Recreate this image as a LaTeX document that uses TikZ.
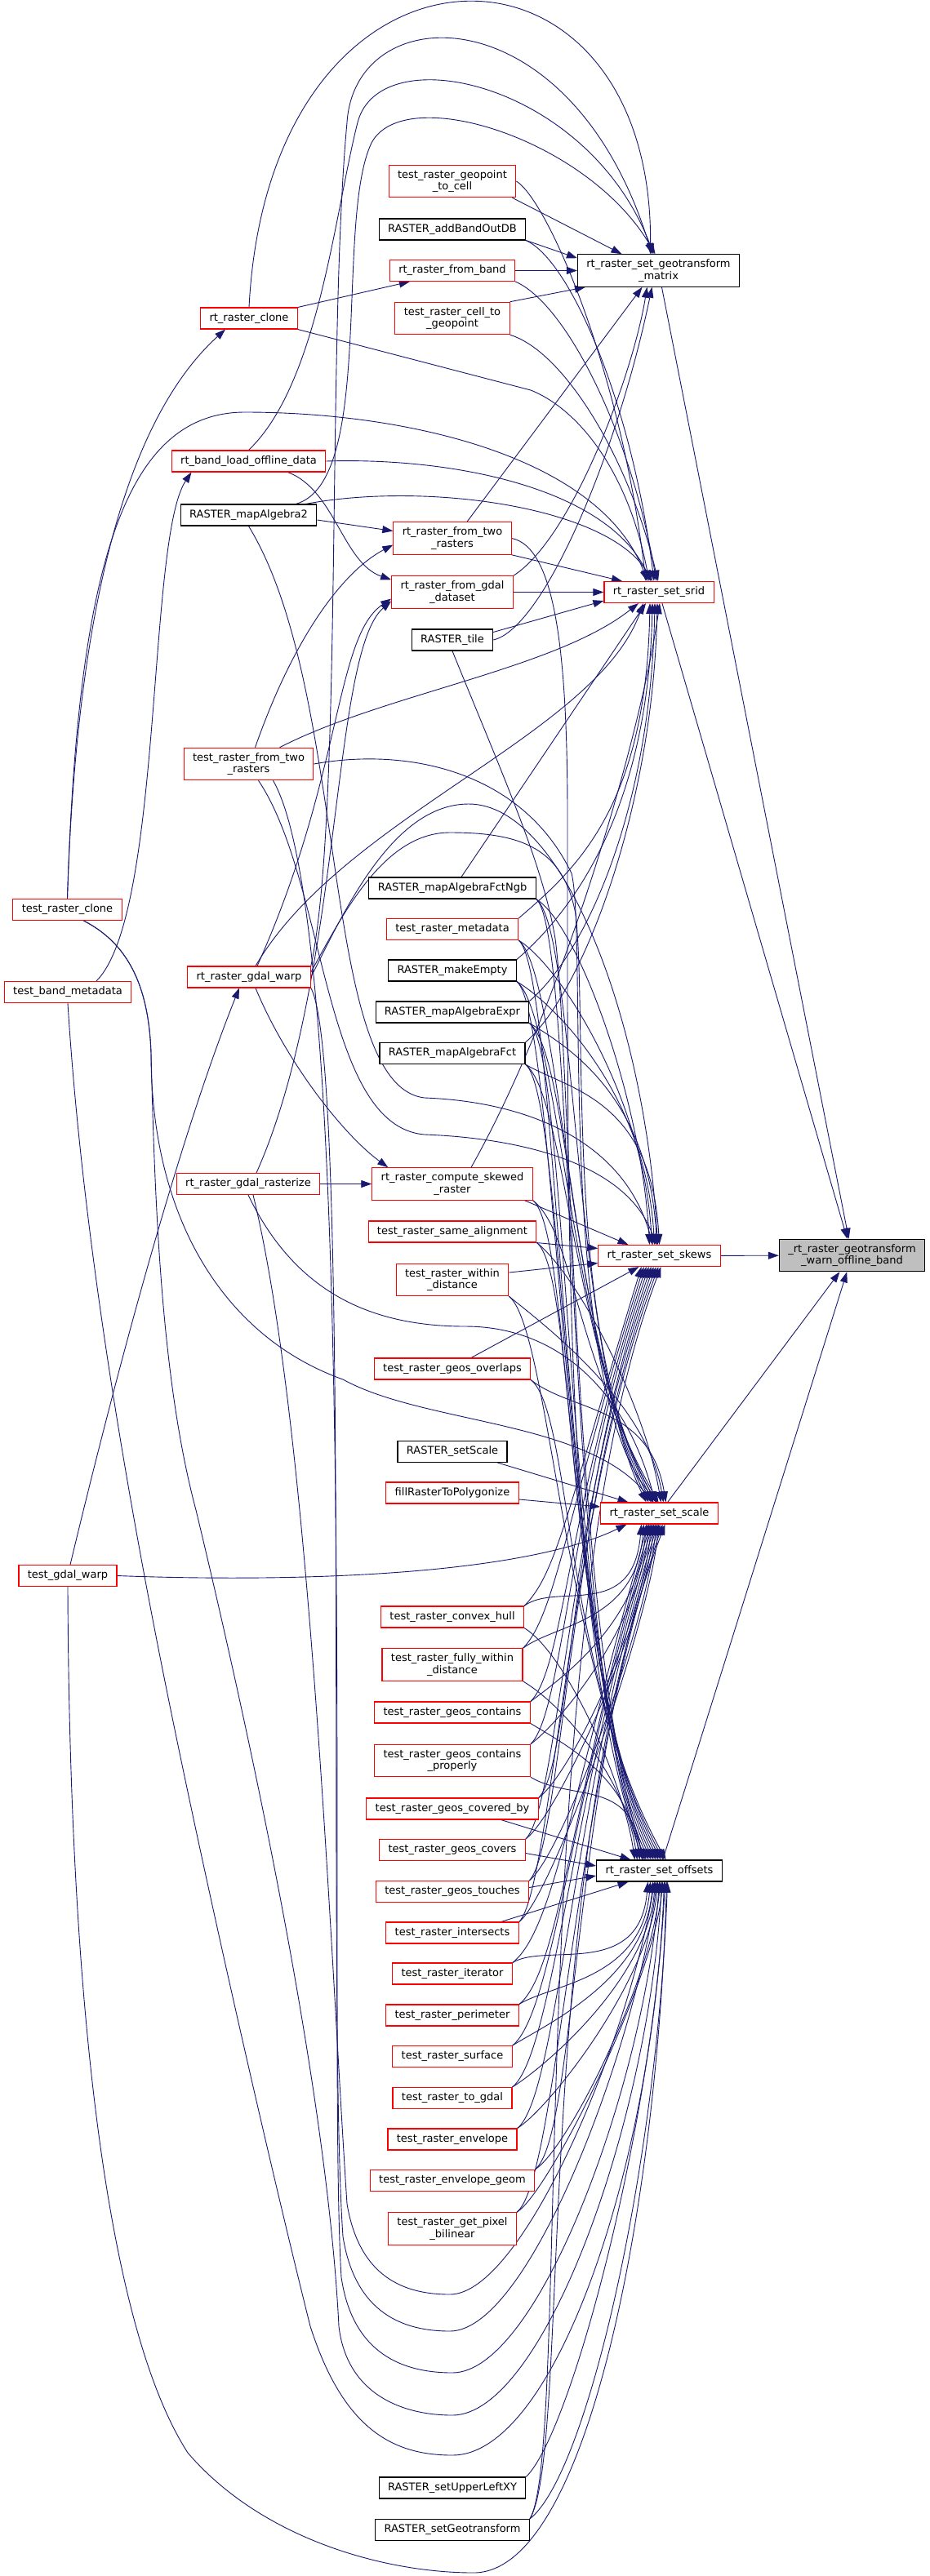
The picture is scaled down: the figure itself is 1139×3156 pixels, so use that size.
\documentclass[tikz,border=0pt]{standalone}
\usepackage{fontspec}
\usepackage{xcolor}
\usepackage{tikz}
\usetikzlibrary{arrows.meta}
\usetikzlibrary{backgrounds}
\newfontfamily\dxfont{DejaVu Sans}
\definecolor{callblue}{HTML}{191970}
\definecolor{rootgray}{HTML}{BFBFBF}
\tikzset{
  fnred/.style={draw=red, fill=white, line width=1.1pt, inner xsep=10.9pt, inner ysep=6pt,
    minimum height=26pt, align=center, font=\dxfont\fontsize{13}{14.5}\selectfont},
  fnblack/.style={fnred, draw=black},
  fnroot/.style={fnblack, fill=rootgray},
  callarrow/.style={draw=callblue, line width=0.9pt, -{Triangle[length=13pt,width=9pt]}}
}

\begin{document}
\begin{tikzpicture}[x=1pt,y=-1pt]
\useasboundingbox (0,0) rectangle (1139,3156);
\node[fnred] (tclone) at (82.5,1114.5) {test\_raster\_clone};
\node[fnred] (tbandmeta) at (83,1215.5) {test\_band\_metadata};
\node[fnred] (tgdalwarp) at (83,1930.5) {test\_gdal\_warp};
\node[fnred] (rclone) at (305,390) {rt\_raster\_clone};
\node[fnred] (rbandload) at (304.5,565) {rt\_band\_load\_offline\_data};
\node[fnblack] (mapalg2) at (304.5,631) {RASTER\_mapAlgebra2};
\node[fnred] (tfromtwo) at (304.5,936) {test\_raster\_from\_two\\\_rasters};
\node[fnred] (rgdalwarp) at (305,1197) {rt\_raster\_gdal\_warp};
\node[fnred] (rrasterize) at (304,1450.5) {rt\_raster\_gdal\_rasterize};
\node[fnred] (tgeotocell) at (554,222) {test\_raster\_geopoint\\\_to\_cell};
\node[fnblack] (addbandoutdb) at (554,281) {RASTER\_addBandOutDB};
\node[fnred] (rfromband) at (554,331.5) {rt\_raster\_from\_band};
\node[fnred] (tcelltogeo) at (554,390) {test\_raster\_cell\_to\\\_geopoint};
\node[fnred] (rfromtwo) at (554,659.5) {rt\_raster\_from\_two\\\_rasters};
\node[fnred] (rfromgdal) at (554,725.5) {rt\_raster\_from\_gdal\\\_dataset};
\node[fnblack] (rtile) at (554,784) {RASTER\_tile};
\node[fnblack] (mafctngb) at (554,1088) {RASTER\_mapAlgebraFctNgb};
\node[fnred] (tmetadata) at (554,1138.5) {test\_raster\_metadata};
\node[fnblack] (makeempty) at (554,1189) {RASTER\_makeEmpty};
\node[fnblack] (maexpr) at (554,1240) {RASTER\_mapAlgebraExpr};
\node[fnblack] (mafct) at (554,1290.5) {RASTER\_mapAlgebraFct};
\node[fnred] (computeskewed) at (554,1450.5) {rt\_raster\_compute\_skewed\\\_raster};
\node[fnred] (samealign) at (554,1509) {test\_raster\_same\_alignment};
\node[fnred] (withindist) at (554,1568) {test\_raster\_within\\\_distance};
\node[fnred] (overlaps) at (554,1677) {test\_raster\_geos\_overlaps};
\node[fnblack] (setscaleR) at (554,1778.5) {RASTER\_setScale};
\node[fnred] (fillpoly) at (554,1829) {fillRasterToPolygonize};
\node[fnred] (convexhull) at (554,1981) {test\_raster\_convex\_hull};
\node[fnred] (fullywithin) at (554,2039.5) {test\_raster\_fully\_within\\\_distance};
\node[fnred] (contains) at (554,2098) {test\_raster\_geos\_contains};
\node[fnred] (containsprop) at (554,2157) {test\_raster\_geos\_contains\\\_properly};
\node[fnred] (coveredby) at (554,2216) {test\_raster\_geos\_covered\_by};
\node[fnred] (covers) at (554,2266.5) {test\_raster\_geos\_covers};
\node[fnred] (touches) at (554,2317.5) {test\_raster\_geos\_touches};
\node[fnred] (intersects) at (554,2368) {test\_raster\_intersects};
\node[fnred] (iterator) at (554,2418) {test\_raster\_iterator};
\node[fnred] (perimeter) at (554,2469) {test\_raster\_perimeter};
\node[fnred] (surface) at (554,2519.5) {test\_raster\_surface};
\node[fnred] (togdal) at (554,2570.5) {test\_raster\_to\_gdal};
\node[fnred] (envelope) at (554,2621) {test\_raster\_envelope};
\node[fnred] (envgeom) at (554,2671.5) {test\_raster\_envelope\_geom};
\node[fnred] (getpixel) at (554,2730.5) {test\_raster\_get\_pixel\\\_bilinear};
\node[fnblack] (setulxy) at (554,3048) {RASTER\_setUpperLeftXY};
\node[fnblack] (setgeot) at (554,3099.5) {RASTER\_setGeotransform};
\node[fnblack] (gtm) at (806.5,331.5) {rt\_raster\_set\_geotransform\\\_matrix};
\node[fnred] (srid) at (807,725.5) {rt\_raster\_set\_srid};
\node[fnred] (skews) at (807.5,1538.5) {rt\_raster\_set\_skews};
\node[fnred] (scale) at (807.5,1854) {rt\_raster\_set\_scale};
\node[fnblack] (offsets) at (807.5,2292) {rt\_raster\_set\_offsets};
\node[fnroot] (warn) at (1043.5,1538) {\_rt\_raster\_geotransform\\\_warn\_offline\_band};

\begin{pgfonlayer}{background}
\fill[white] (0,0) rectangle (1139,3156);
\foreach \n in {gtm,srid,skews,scale,offsets}
  \draw[callarrow] (\n) -- (warn);

\draw[callarrow] ([xshift=-5pt]tgeotocell.south east) -- ([xshift=-45pt]gtm.north);
\draw[callarrow] (addbandoutdb.south east) -- ([yshift=-5pt]gtm.north west);
\draw[callarrow] (rfromband) -- (gtm);
\draw[callarrow] (tcelltogeo.north east) -- ([xshift=10pt]gtm.south west);
\draw[callarrow] (rclone.north) .. controls (330,-110) and (800,-110) .. ([xshift=-10pt]gtm.north);
\draw[callarrow] (rgdalwarp.north east) .. controls (420,1000) and (400,420) .. (425,150) .. controls (435,-5) and (700,-10) .. ([xshift=-8pt]gtm.north);
\draw[callarrow] (rbandload.north) .. controls (390,470) and (410,260) .. (438,150) .. controls (465,45) and (720,100) .. ([xshift=-6pt]gtm.north);
\draw[callarrow] ([xshift=-26pt]mapalg2.north east) .. controls (460,590) and (410,270) .. (455,175) .. controls (495,100) and (720,170) .. ([xshift=-4pt]gtm.north);
\draw[callarrow] ([xshift=18pt]rfromtwo.north) -- ([xshift=-20pt]gtm.south);
\draw[callarrow] (rfromgdal.north east) .. controls (700,660) and (775,460) .. ([xshift=-14pt]gtm.south);
\draw[callarrow] (rtile.east) .. controls (665,770) and (755,560) .. ([xshift=-8pt]gtm.south);

\draw[callarrow] (rfromgdal) -- (srid);
\draw[callarrow] (rfromtwo.south east) -- ([xshift=-45pt]srid.north);
\draw[callarrow] ([yshift=-4pt]rtile.north east) -- ([yshift=3pt]srid.south west);
\draw[callarrow] (tgeotocell.east) .. controls (670,245) and (760,450) .. ([xshift=-16pt]srid.north);
\draw[callarrow] (tclone.north) .. controls (95,700) and (150,505) .. (300,505) .. controls (500,505) and (735,560) .. ([xshift=-14pt]srid.north);
\draw[callarrow] (rclone.south east) -- (650,478) .. controls (710,502) and (770,580) .. ([xshift=-12pt]srid.north);
\draw[callarrow] (rbandload.east) .. controls (560,560) and (745,600) .. ([xshift=-10pt]srid.north);
\draw[callarrow] ([xshift=-14pt]mapalg2.north east) .. controls (520,590) and (745,620) .. ([xshift=-8pt]srid.north);
\draw[callarrow] (addbandoutdb.south east) .. controls (700,320) and (775,500) .. ([xshift=-6pt]srid.north);
\draw[callarrow] (rfromband.south east) .. controls (690,370) and (770,520) .. ([xshift=-3pt]srid.north);
\draw[callarrow] (tcelltogeo.south east) .. controls (690,430) and (770,560) .. ([xshift=-1pt]srid.north);
\draw[callarrow] ([xshift=38pt]tfromtwo.north) .. controls (470,850) and (680,820) .. ([xshift=-25pt]srid.south);
\draw[callarrow] ([xshift=8pt]rgdalwarp.north) .. controls (420,1000) and (730,900) .. ([xshift=-19pt]srid.south);
\draw[callarrow] ([xshift=11pt]mafctngb.north) -- ([xshift=-16pt]srid.south);
\foreach \n/\s in {tmetadata/-11,makeempty/-8,maexpr/-5,mafct/-2}
  \draw[callarrow] (\n.north east) .. controls +(70,-60) and +(-5,250) .. ([xshift=\s pt]srid.south);
\draw[callarrow] ([xshift=23pt]computeskewed.north) .. controls (690,1230) and (785,900) .. ([xshift=1pt]srid.south);

\draw[callarrow] ([xshift=-10pt]computeskewed.south east) -- ([xshift=-38pt]skews.north);
\draw[callarrow] (samealign.south east) -- ([yshift=9pt]skews.west);
\draw[callarrow] ([yshift=9pt]withindist.east) -- ([yshift=-9pt]skews.west);
\draw[callarrow] ([xshift=23pt]overlaps.north) -- ([xshift=-25pt]skews.south);
\foreach \n/\s in {mafctngb/-12,tmetadata/-9,makeempty/-6,maexpr/-3,mafct/0}
  \draw[callarrow] (\n.south east) .. controls +(50,30) and +(-10,-180) .. ([xshift=\s pt]skews.north);
\draw[callarrow] (mapalg2.south) .. controls (430,850) and (390,1330) .. (520,1345) .. controls (650,1350) and (765,1400) .. ([xshift=-8pt]skews.north);
\draw[callarrow] ([xshift=12pt]tfromtwo.south) .. controls (400,1080) and (395,1380) .. (520,1390) .. controls (650,1395) and (770,1430) .. ([xshift=-4pt]skews.north);
\draw[callarrow] (rgdalwarp.east) .. controls (420,1120) and (480,985) .. (574,985) .. controls (690,985) and (790,1250) .. ([xshift=-2pt]skews.north);

\draw[callarrow] ([xshift=-12pt]setscaleR.south east) -- ([xshift=-38pt]scale.north);
\draw[callarrow] ([yshift=-8pt]fillpoly.east) -- ([yshift=8pt]scale.west);
\draw[callarrow] (tgdalwarp.east) .. controls (400,1940) and (650,1925) .. ([xshift=-40pt]scale.south);
\draw[callarrow] ([xshift=20pt]tclone.south) .. controls (155,1155) and (182,1205) .. (185,1290) .. controls (185,1500) and (280,1640) .. (420,1690) .. controls (520,1745) and (720,1740) .. ([xshift=-8pt]scale.north);
\draw[callarrow] (rrasterize.south) .. controls (360,1580) and (450,1625) .. (570,1625) .. controls (680,1625) and (765,1700) .. ([xshift=-5pt]scale.north);
\draw[callarrow] ([yshift=6pt]rgdalwarp.east) .. controls (420,1120) and (470,1020) .. (551,1020) .. controls (640,1020) and (690,1040) .. (705,1120) .. controls (720,1250) and (690,1650) .. ([xshift=-3pt]scale.north);
\draw[callarrow] (tfromtwo.east) .. controls (500,915) and (640,945) .. (700,1070) .. controls (720,1150) and (680,1700) .. ([xshift=-2pt]scale.north);
\foreach \n/\s in {mafctngb/-16,tmetadata/-13,makeempty/-10,maexpr/-7,mafct/-4,computeskewed/-1} {
  \draw[callarrow] (\n.south east) .. controls +(50,40) and (700,1650) .. ([xshift=\s pt]scale.north);
  \draw[callarrow] (\n.south east) .. controls +(50,40) and (690,2050) .. ([xshift=\s pt]offsets.north);
}
\foreach \n/\s in {samealign/2,withindist/5,overlaps/8} {
  \draw[callarrow] (\n.south east) .. controls +(50,40) and +(-20,-120) .. ([xshift=\s pt]scale.north);
  \draw[callarrow] (\n.south east) .. controls +(50,40) and (690,2050) .. ([xshift=\s pt]offsets.north);
}
\draw[callarrow] (rtile.south) .. controls (620,960) and (665,1060) .. (680,1150) .. controls (700,1300) and (700,2000) .. ([xshift=-18pt]offsets.north);
\draw[callarrow] (rfromtwo.east) .. controls (680,670) and (695,800) .. (695,1000) .. controls (695,1500) and (690,2000) .. ([xshift=-20pt]offsets.north);

\foreach \n/\s in {convexhull/-22,fullywithin/-19,contains/-16,containsprop/-13,coveredby/-10,covers/-7,touches/-4,intersects/-1} {
  \draw[callarrow] (\n.north east) .. controls +(40,-40) and (695,1850) .. ([xshift=\s pt]skews.south);
  \draw[callarrow] (\n.north east) .. controls +(40,-30) and +(-10,120) .. ([xshift=\s pt]scale.south);
}
\foreach \n/\s in {convexhull/-30,fullywithin/-27,contains/-24,containsprop/-21}
  \draw[callarrow] (\n.south east) .. controls +(50,30) and +(-15,-100) .. ([xshift=\s pt]offsets.north);
\draw[callarrow] ([xshift=-46pt]coveredby.south east) -- ([xshift=-35pt]offsets.north);
\draw[callarrow] ([yshift=-4pt]covers.east) -- ([yshift=6pt]offsets.west);
\draw[callarrow] ([yshift=5pt]touches.east) -- ([yshift=-6pt]offsets.west);
\draw[callarrow] ([xshift=-22pt]intersects.north east) -- ([xshift=-38pt]offsets.south);

\foreach \n/\s in {iterator/-14,perimeter/-11,surface/-8,togdal/-5,envelope/-2,envgeom/1,getpixel/4} {
  \draw[callarrow] (\n.north east) .. controls +(40,-25) and +(-10,120) .. ([xshift=\s pt]offsets.south);
  \draw[callarrow] (\n.north east) .. controls +(50,-40) and (700,2200) .. ([xshift=\s pt]scale.south);
}
\draw[callarrow] (setulxy.north east) .. controls (700,2980) and (800,2600) .. ([xshift=7pt]offsets.south);
\draw[callarrow] (setgeot.north east) .. controls (720,3030) and (805,2650) .. ([xshift=10pt]offsets.south);
\draw[callarrow] (setgeot.north east) .. controls (700,3000) and (650,2300) .. ([xshift=7pt]scale.south);
\draw[callarrow] (setgeot.north east) .. controls (700,3000) and (640,2000) .. ([xshift=2pt]skews.south);

\draw[callarrow] ([xshift=6pt]rrasterize.south) .. controls (380,1750) and (405,2400) .. (425,2700) .. controls (440,2790) and (495,2811) .. (551,2811) .. controls (640,2811) and (770,2500) .. ([xshift=-6pt]offsets.south);
\draw[callarrow] (rgdalwarp.south east) .. controls (430,1300) and (400,2450) .. (420,2740) .. controls (435,2835) and (495,2856) .. (551,2856) .. controls (650,2856) and (780,2500) .. ([xshift=-3pt]offsets.south);
\draw[callarrow] ([xshift=30pt]tfromtwo.south) .. controls (445,1150) and (400,2500) .. (418,2790) .. controls (432,2885) and (495,2907) .. (554,2907) .. controls (660,2907) and (790,2550) .. (offsets.south);
\draw[callarrow] ([xshift=20pt]tclone.south) .. controls (155,1155) and (182,1205) .. (185,1290) .. controls (190,1500) and (200,1700) .. (240,1850) .. controls (300,2100) and (400,2550) .. (415,2850) .. controls (425,2935) and (495,2959) .. (554,2959) .. controls (665,2959) and (795,2600) .. ([xshift=3pt]offsets.south);
\draw[callarrow] (tbandmeta.south) .. controls (100,1500) and (150,1800) .. (200,2050) .. controls (250,2300) and (330,2650) .. (380,2850) .. controls (420,2975) and (480,3008) .. (554,3008) .. controls (680,3008) and (800,2650) .. ([xshift=6pt]offsets.south);
\draw[callarrow] (tgdalwarp.south) .. controls (85,2450) and (130,2850) .. (230,3005) .. controls (320,3110) and (470,3152) .. (580,3152) .. controls (720,3152) and (805,2700) .. ([xshift=9pt]offsets.south);

\draw[callarrow] ([xshift=8pt]rgdalwarp.south) .. controls (350,1300) and (420,1390) .. ([xshift=20pt]computeskewed.north west);
\draw[callarrow] (rrasterize) -- (computeskewed);
\draw[callarrow] ([xshift=48pt]rbandload.south) .. controls (410,600) and (420,690) .. ([yshift=-5pt]rfromgdal.north west);
\draw[callarrow] ([xshift=10pt]rgdalwarp.north) .. controls (420,950) and (410,780) .. ([yshift=-8pt]rfromgdal.west);
\draw[callarrow] ([xshift=10pt]rrasterize.north) .. controls (420,1200) and (405,800) .. ([yshift=-11pt]rfromgdal.west);
\draw[callarrow] ([xshift=8pt]tfromtwo.north) .. controls (360,780) and (420,700) .. ([yshift=-8pt]rfromtwo.west);
\draw[callarrow] ([yshift=-6pt]mapalg2.east) -- ([yshift=9pt]rfromtwo.west);
\draw[callarrow] (rclone.north east) -- ([xshift=25pt]rfromband.south west);
\draw[callarrow] (tclone.north) .. controls (95,700) and (170,500) .. ([xshift=-29pt]rclone.south);
\draw[callarrow] ([xshift=35pt]tbandmeta.north) .. controls (200,1120) and (180,660) .. ([xshift=-70pt]rbandload.south);
\draw[callarrow] ([xshift=3pt]tgdalwarp.north) .. controls (150,1650) and (225,1380) .. ([xshift=-12pt]rgdalwarp.south);
\end{pgfonlayer}
\end{tikzpicture}
\end{document}
